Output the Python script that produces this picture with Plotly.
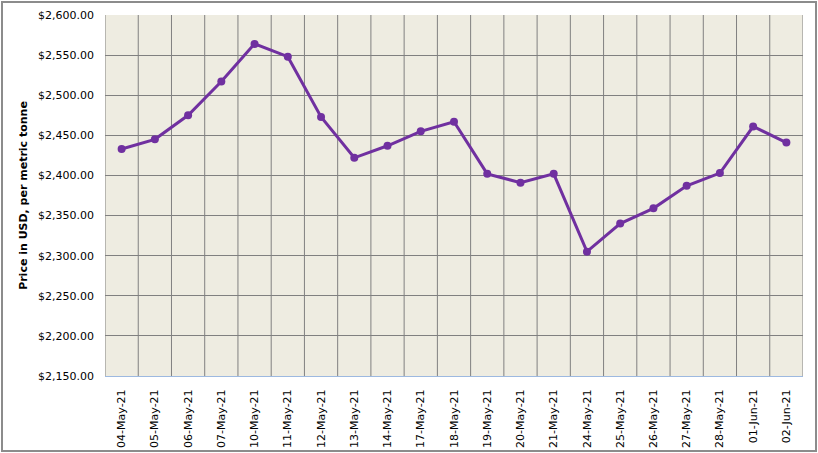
import plotly.graph_objects as go

dates = ["04-May-21", "05-May-21", "06-May-21", "07-May-21", "10-May-21", "11-May-21",
         "12-May-21", "13-May-21", "14-May-21", "17-May-21", "18-May-21", "19-May-21",
         "20-May-21", "21-May-21", "24-May-21", "25-May-21", "26-May-21", "27-May-21",
         "28-May-21", "01-Jun-21", "02-Jun-21"]
prices = [2433, 2445, 2475, 2517, 2564, 2548, 2473, 2422, 2437, 2455, 2467, 2402,
          2391, 2402, 2305, 2340, 2359, 2387, 2403, 2461, 2441]
y_ticks = [2150, 2200, 2250, 2300, 2350, 2400, 2450, 2500, 2550, 2600]

fig = go.Figure()
fig.add_trace(go.Scatter(
    x=list(range(len(dates))), y=prices, mode="lines+markers",
    line=dict(color="#7030A0", width=3),
    marker=dict(color="#7030A0", size=8),
    showlegend=False,
))

fig.update_layout(
    width=818, height=453,
    margin=dict(l=105, r=15, t=15, b=77),
    paper_bgcolor="white",
    plot_bgcolor="#EEECE1",
    font=dict(family="DejaVu Sans", size=11, color="black"),
    xaxis=dict(
        tickmode="array", tickvals=list(range(len(dates))), ticktext=dates,
        tickangle=-90, range=[-0.5, len(dates) - 0.5],
        showgrid=False, zeroline=False, automargin=False,
        showline=True, linecolor="#9DB9E0", linewidth=1,
        ticks="", tickfont=dict(size=11), ticklabelstandoff=8,
    ),
    yaxis=dict(
        range=[2150, 2600], tickvals=y_ticks,
        tickformat="$,.2f", automargin=False,
        showgrid=True, gridcolor="#808080", gridwidth=1,
        zeroline=False, showline=False, ticks="",
        tickfont=dict(size=11), ticklabelstandoff=10,
        title=dict(text="Price in USD, per metric tonne",
                   font=dict(size=11, family="DejaVu Sans", weight="bold"),
                   standoff=8),
    ),
)

# vertical gridlines at category boundaries
for i in range(0, len(dates) + 1):
    fig.add_shape(type="line", xref="x", yref="y",
                  x0=i - 0.5, x1=i - 0.5, y0=2150, y1=2600,
                  line=dict(color="#808080", width=1), layer="below")

# outer chart border
fig.add_shape(type="rect", xref="paper", yref="paper",
              x0=-103 / 698, x1=1 + 13 / 698, y0=-75 / 361, y1=1 + 13 / 361,
              line=dict(color="#8C8C8C", width=2), fillcolor="rgba(0,0,0,0)")

fig.write_html("out.html")
